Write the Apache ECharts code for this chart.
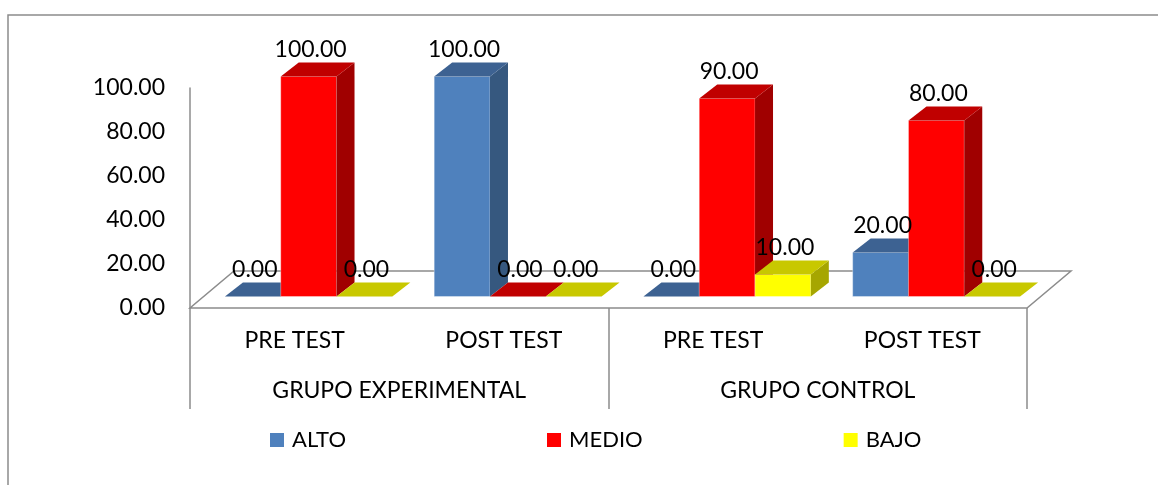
<!DOCTYPE html>
<html>
<head>
<meta charset="utf-8">
<script src="https://cdn.jsdelivr.net/npm/echarts@6/dist/echarts.min.js"></script>
<style>
  html, body { margin: 0; padding: 0; background: #fff; }
  #chart { width: 1158px; height: 485px; }
</style>
</head>
<body>
<div id="chart"></div>
<script>
// datos del gráfico
const categories = ['PRE TEST', 'POST TEST', 'PRE TEST', 'POST TEST']
const groups = ['GRUPO EXPERIMENTAL', 'GRUPO CONTROL']
const seriesNames = ['ALTO', 'MEDIO', 'BAJO']
const alto = [0, 100, 0, 20]
const medio = [100, 0, 90, 80]
const bajo = [0, 0, 10, 0]

// layout
const GRID = { left: 190, top: 88, width: 837, height: 220 }
const FLOOR_DX = 44, FLOOR_DY = -37
const OFF_X = 14, OFF_Y = -11.5   // desplazamiento del plano de barras
const DX = 18, DY = -14           // profundidad de cada barra
const BAR_FILL = 0.8
const FONT = 'Lato'
const GRAY = '#8c8c8c'

const colors = [
  { front: '#4f81bd', top: '#3d6292', side: '#36587f' },
  { front: '#ff0000', top: '#c00000', side: '#a00000' },
  { front: '#ffff00', top: '#c8c800', side: '#a6a600' }
]

const makeBar = (slot, c) => (params, api) => {
  const idx = api.value(0)
  const v = api.value(1)
  const base = api.coord([idx, 0])
  const top = api.coord([idx, v])
  const cw = api.size([1, 0])[0]
  const bw = cw * BAR_FILL / 3
  const x0 = base[0] - cw * BAR_FILL / 2 + slot * bw + OFF_X
  const x1 = x0 + bw
  const yb = base[1] + OFF_Y
  const yt = top[1] + OFF_Y
  const children = []
  if (yb - yt > 0.5) {
    children.push({
      type: 'rect',
      shape: { x: x0, y: yt, width: bw, height: yb - yt },
      style: { fill: c.front, stroke: 'rgba(255,255,255,0.35)', lineWidth: 1 }
    })
    children.push({
      type: 'polygon',
      shape: { points: [[x1, yt], [x1 + DX, yt + DY], [x1 + DX, yb + DY], [x1, yb]] },
      style: { fill: c.side }
    })
  }
  children.push({
    type: 'polygon',
    shape: { points: [[x0, yt], [x1, yt], [x1 + DX, yt + DY], [x0 + DX, yt + DY]] },
    style: { fill: c.top }
  })
  children.push({
    type: 'text',
    z2: 10,
    style: {
      text: v.toFixed(2),
      x: (x0 + x1) / 2 + 2,
      y: yt - 27,
      align: 'center',
      verticalAlign: 'middle',
      fontFamily: FONT,
      fontSize: 23,
      fill: '#000'
    }
  })
  return { type: 'group', children }
}

const values = [alto, medio, bajo]

const chart = echarts.init(document.getElementById('chart'))

const gb = GRID.top + GRID.height
const gr = GRID.left + GRID.width

const option = {
  animation: false,
  grid: Object.assign({ containLabel: false, outerBoundsMode: 'none' }, GRID),
  legend: {
    data: seriesNames,
    left: 265,
    top: 424,
    icon: 'rect',
    itemWidth: 14,
    itemHeight: 14,
    itemGap: 201,
    textStyle: { fontFamily: FONT, fontSize: 22, color: '#000', padding: [0, 0, 0, 3] }
  },
  xAxis: [
    {
      type: 'category',
      data: categories,
      position: 'bottom',
      axisLine: { show: false },
      axisTick: { show: false },
      axisLabel: { margin: 21, fontFamily: FONT, fontSize: 23, color: '#000' }
    },
    {
      type: 'category',
      data: groups,
      position: 'bottom',
      axisLine: { show: false },
      axisTick: { show: true, length: 101, lineStyle: { color: GRAY, width: 1.5 } },
      axisLabel: { margin: 71, fontFamily: FONT, fontSize: 23, color: '#000' }
    }
  ],
  yAxis: {
    type: 'value',
    min: 0,
    max: 100,
    interval: 20,
    axisLine: { show: true, lineStyle: { color: GRAY, width: 1.5 } },
    axisTick: { show: false },
    splitLine: { show: false },
    axisLabel: {
      margin: 25,
      fontFamily: FONT,
      fontSize: 23,
      color: '#000',
      formatter: (val) => val.toFixed(2)
    }
  },
  graphic: [
    {
      type: 'polygon',
      z: 0,
      silent: true,
      shape: {
        points: [
          [GRID.left, gb], [gr, gb],
          [gr + FLOOR_DX, gb + FLOOR_DY], [GRID.left + FLOOR_DX, gb + FLOOR_DY]
        ]
      },
      style: { fill: '#fff', stroke: GRAY, lineWidth: 1.5 }
    },
    {
      type: 'polyline',
      silent: true,
      shape: { points: [[8, 485], [8, 15], [1158, 15]] },
      style: { stroke: GRAY, lineWidth: 1.5, fill: null }
    }
  ],
  series: seriesNames.map((name, i) => ({
    name,
    type: 'custom',
    xAxisIndex: 0,
    itemStyle: { color: colors[i].front },
    emphasis: { disabled: true },
    renderItem: makeBar(i, colors[i]),
    encode: { x: 0, y: 1 },
    data: values[i].map((v, k) => [k, v])
  }))
}

chart.setOption(option)
</script>
</body>
</html>
